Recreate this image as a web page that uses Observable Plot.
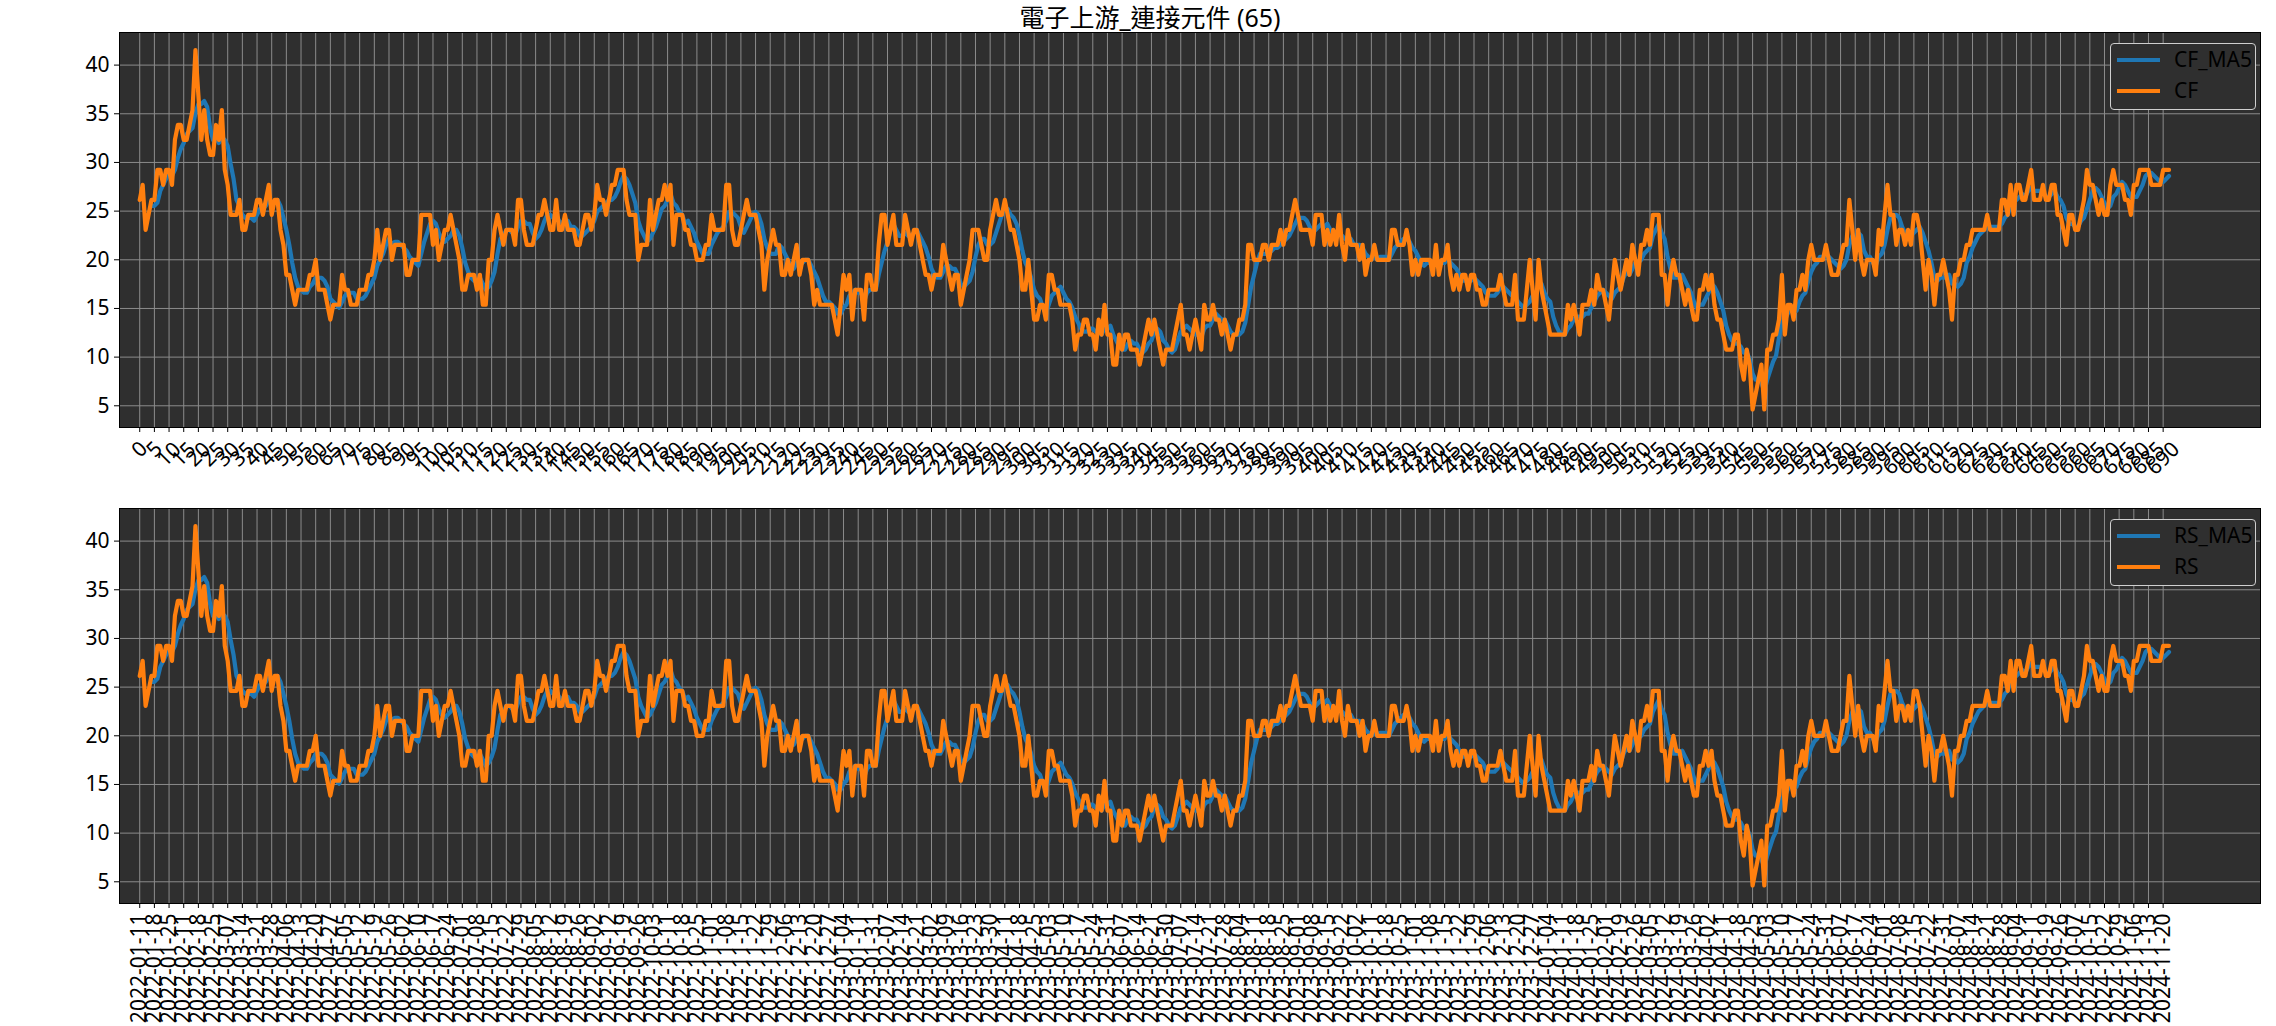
<!DOCTYPE html>
<html><head><meta charset="utf-8">
<script src="https://cdn.jsdelivr.net/npm/d3@7"></script>
<script src="https://cdn.jsdelivr.net/npm/@observablehq/plot@0.6"></script>
<style>
body{margin:0;background:#fff;font-family:"Noto Sans","Noto Sans CJK TC",sans-serif;}
#wrap{position:relative;width:2276px;height:1026px;overflow:hidden;background:#fff;}
.panel{position:absolute;left:0;}
#title{position:absolute;top:2px;left:900px;width:500px;height:30px;line-height:30px;text-align:center;font-size:25px;color:#000;white-space:nowrap;font-family:"Noto Sans","Noto Sans CJK TC",sans-serif;}
.legend{position:absolute;left:2110px;width:146px;height:67px;background:#2f2f2f;border:1px solid #cfcfcf;border-radius:4px;box-sizing:border-box;}
.sw{position:absolute;left:6px;width:43px;height:4px;}
.lab{position:absolute;left:63px;font-size:21px;line-height:24px;color:#000;white-space:nowrap;}
</style></head>
<body>
<div id="wrap">
  <div id="p1" class="panel" style="top:0px"></div>
  <div id="p2" class="panel" style="top:476px"></div>
  <div id="title">電子上游_連接元件 (65)</div>
  <div class="legend" style="top:43px">
    <div class="sw" style="top:14px;background:#1f77b4"></div><div class="lab" style="top:3px">CF_MA5</div>
    <div class="sw" style="top:45px;background:#ff7f0e"></div><div class="lab" style="top:34px">CF</div>
  </div>
  <div class="legend" style="top:519px">
    <div class="sw" style="top:14px;background:#1f77b4"></div><div class="lab" style="top:3px">RS_MA5</div>
    <div class="sw" style="top:45px;background:#ff7f0e"></div><div class="lab" style="top:34px">RS</div>
  </div>
</div>
<script>
// CF series (percent of the 65 stocks), by index
const cfA = [26.15,27.69,23.08,24.62,26.15,26.15,29.23,29.23,27.69,29.23,
29.23,27.69,32.31,33.85,33.85,32.31,32.31,33.85,35.38,41.54,
36.92,32.31,35.38,32.31,30.77,30.77,33.85,32.31,35.38,29.23,
27.69,24.62,24.62,24.62,26.15,23.08,23.08,24.62,24.62,24.62,
26.15,26.15,24.62,26.15,27.69,24.62,26.15,26.15,23.08,21.54,
18.46,18.46,16.92,15.38,16.92,16.92,16.92,16.92,18.46,18.46,
20,16.92,16.92,16.92,15.38,13.85,15.38,15.38,15.38,18.46,
16.92,16.92,15.38,15.38,15.38,16.92,16.92,16.92,18.46,18.46,
20,23.08,20,21.54,23.08,23.08,20,21.54,21.54,21.54,
21.54,18.46,18.46,20,20,20,24.62,24.62,24.62,24.62,
21.54,23.08,20,21.54,23.08,23.08,24.62,23.08,21.54,20,
16.92,16.92,18.46,18.46,18.46,16.92,18.46,15.38,15.38,20,
20,23.08,24.62,23.08,21.54,23.08,23.08,23.08,21.54,26.15,
26.15,23.08,21.54,21.54,21.54,23.08,24.62,24.62,26.15,24.62,
23.08,23.08,26.15,23.08,23.08,24.62,23.08,23.08,23.08,21.54,
21.54,23.08,24.62,24.62,23.08,24.62,27.69,26.15,26.15,24.62,
26.15,27.69,27.69,29.23,29.23,29.23,26.15,24.62,24.62,24.62,
20,21.54,21.54,21.54,26.15,23.08,24.62,26.15,26.15,27.69,
26.15,27.69,21.54,24.62,24.62,24.62,23.08,23.08,21.54,21.54,
20,20,20,21.54,21.54,24.62,23.08,23.08,23.08,23.08,
27.69,27.69,23.08,21.54,21.54,23.08,24.62,26.15,24.62,24.62,
24.62,23.08,21.54,16.92,20,21.54,23.08,21.54,21.54,18.46,
18.46,20,18.46,20,21.54,18.46,20,20,20,18.46,
15.38,16.92,15.38,15.38,15.38,15.38,15.38,13.85,12.31,15.38];
const cfB = [18.46,16.92,18.46,13.85,16.92,16.92,16.92,13.85,18.46,18.46,
16.92,16.92,21.54,24.62,24.62,21.54,23.08,24.62,21.54,21.54,
21.54,24.62,23.08,21.54,23.08,23.08,21.54,20,18.46,18.46,
16.92,18.46,18.46,18.46,21.54,20,18.46,16.92,18.46,18.46,
15.38,16.92,18.46,20,23.08,23.08,23.08,21.54,20,20,
23.08,24.62,26.15,24.62,24.62,26.15,24.62,23.08,23.08,21.54,
20,16.92,16.92,20,16.92,13.85,13.85,15.38,15.38,13.85,
18.46,18.46,16.92,16.92,15.38,15.38,15.38,15.38,13.85,10.77,
12.31,12.31,13.85,13.85,12.31,12.31,10.77,13.85,12.31,15.38,
12.31,12.31,9.23,9.23,12.31,10.77,12.31,12.31,10.77,10.77,
10.77,9.23,10.77,12.31,13.85,12.31,13.85,12.31,10.77,9.23,
10.77,10.77,10.77,12.31,13.85,15.38,12.31,12.31,10.77,12.31,
13.85,12.31,10.77,15.38,13.85,13.85,15.38,13.85,13.85,12.31,
13.85,12.31,10.77,12.31,12.31,13.85,13.85,15.38,21.54,21.54,
20,20,20,21.54,21.54,20,21.54,21.54,21.54,23.08,
21.54,23.08,23.08,24.62,26.15,24.62,23.08,23.08,23.08,23.08,
21.54,24.62,24.62,24.62,21.54,23.08,21.54,23.08,21.54,24.62,
21.54,20,23.08,21.54,21.54,21.54,20,21.54,18.46,20,
20,21.54,20,20,20,20,20,23.08,23.08,21.54,
21.54,21.54,23.08,21.54,18.46,20,18.46,20,20,20,
20,18.46,21.54,18.46,20,20,21.54,18.46,16.92,18.46,
16.92,18.46,18.46,16.92,18.46,18.46,16.92,16.92,15.38,15.38,
16.92,16.92,16.92,16.92,18.46,16.92,15.38,15.38,15.38,18.46,
13.85,13.85,13.85,16.92,20,16.92,13.85,20,16.92,15.38];
const cfC = [13.85,12.31,12.31,12.31,12.31,12.31,12.31,15.38,13.85,15.38,
13.85,12.31,15.38,15.38,15.38,16.92,15.38,18.46,16.92,16.92,
15.38,13.85,16.92,20,18.46,16.92,18.46,20,18.46,21.54,
20,18.46,21.54,21.54,23.08,21.54,24.62,24.62,24.62,18.46,
18.46,15.38,18.46,20,18.46,18.46,16.92,15.38,16.92,15.38,
13.85,13.85,16.92,16.92,18.46,16.92,18.46,15.38,13.85,13.85,
12.31,10.77,10.77,10.77,12.31,12.31,9.23,7.69,10.77,9.23,
4.62,6.15,7.69,9.23,4.62,10.77,10.77,12.31,12.31,13.85,
18.46,12.31,15.38,15.38,13.85,16.92,16.92,18.46,16.92,20,
21.54,20,20,20,20,21.54,20,18.46,18.46,18.46,
20,21.54,21.54,26.15,23.08,20,23.08,20,18.46,20,
20,20,18.46,23.08,21.54,24.62,27.69,24.62,24.62,21.54,
23.08,23.08,21.54,23.08,21.54,24.62,24.62,23.08,20,16.92,
20,18.46,15.38,18.46,18.46,20,18.46,16.92,13.85,18.46,
18.46,20,20,21.54,21.54,23.08,23.08,23.08,23.08,23.08,
24.62,23.08,23.08,23.08,23.08,26.15,26.15,24.62,27.69,24.62,
27.69,27.69,26.15,26.15,27.69,29.23,26.15,26.15,26.15,27.69,
26.15,26.15,27.69,27.69,24.62,24.62,23.08,21.54,24.62,24.62,
23.08,23.08,24.62,26.15,29.23,27.69,27.69,26.15,24.62,26.15,
24.62,24.62,27.69,29.23,27.69,27.69,27.69,26.15,26.15,24.62,
27.69,27.69,29.23,29.23,29.23,29.23,27.69,27.69,27.69,27.69,
29.23,29.23,29.23];
const cf = cfA.concat(cfB, cfC);
const rs = cf; // the RS panel shows the same values

const xTicks = d3.range(0, 691, 5);
const yTicks = [5, 10, 15, 20, 25, 30, 35, 40];
const dateLabels = [
"2022-01-11","2022-01-18","2022-01-25","2022-02-11","2022-02-18","2022-02-25","2022-03-07","2022-03-14","2022-03-21","2022-03-28",
"2022-04-06","2022-04-13","2022-04-20","2022-04-27","2022-05-05","2022-05-12","2022-05-19","2022-05-26","2022-06-02","2022-06-10",
"2022-06-17","2022-06-24","2022-07-01","2022-07-08","2022-07-15","2022-07-22","2022-07-29","2022-08-05","2022-08-12","2022-08-19",
"2022-08-26","2022-09-02","2022-09-12","2022-09-19","2022-09-26","2022-10-03","2022-10-11","2022-10-18","2022-10-25","2022-11-01",
"2022-11-08","2022-11-15","2022-11-22","2022-11-29","2022-12-06","2022-12-13","2022-12-20","2022-12-27","2023-01-04","2023-01-11",
"2023-01-31","2023-02-07","2023-02-14","2023-02-21","2023-03-02","2023-03-09","2023-03-16","2023-03-23","2023-03-30","2023-04-11",
"2023-04-18","2023-04-25","2023-05-03","2023-05-10","2023-05-17","2023-05-24","2023-05-31","2023-06-07","2023-06-14","2023-06-21",
"2023-06-30","2023-07-07","2023-07-14","2023-07-21","2023-07-28","2023-08-04","2023-08-11","2023-08-18","2023-08-25","2023-09-01",
"2023-09-08","2023-09-15","2023-09-22","2023-10-02","2023-10-11","2023-10-18","2023-10-25","2023-11-01","2023-11-08","2023-11-15",
"2023-11-22","2023-11-29","2023-12-06","2023-12-13","2023-12-20","2023-12-27","2024-01-04","2024-01-11","2024-01-18","2024-01-25",
"2024-02-01","2024-02-19","2024-02-26","2024-03-05","2024-03-12","2024-03-19","2024-03-26","2024-04-02","2024-04-11","2024-04-18",
"2024-04-25","2024-05-03","2024-05-10","2024-05-17","2024-05-24","2024-05-31","2024-06-07","2024-06-17","2024-06-24","2024-07-01",
"2024-07-08","2024-07-15","2024-07-22","2024-07-31","2024-08-07","2024-08-14","2024-08-21","2024-08-28","2024-09-04","2024-09-11",
"2024-09-19","2024-09-26","2024-10-07","2024-10-15","2024-10-22","2024-10-29","2024-11-06","2024-11-13","2024-11-20"];

const BG = "#2f2f2f", GRID = "#8c8c8c", BLUE = "#1f77b4", ORANGE = "#ff7f0e";
const FONT = '"Noto Sans","Noto Sans CJK TC",sans-serif';

function panel(values, height, marginBottom, labelMarks) {
  const rows = values.map((v, i) => ({i, v}));
  return Plot.plot({
    width: 2276, height,
    marginLeft: 119, marginRight: 16, marginTop: 32, marginBottom,
    style: {background: "transparent", fontFamily: FONT, fontSize: "21px", color: "#000", overflow: "visible"},
    x: {domain: [-6.9, 723.2], label: null},
    y: {domain: [2.77, 43.35], label: null},
    marks: [
      Plot.frame({fill: BG}),
      Plot.gridX(xTicks, {stroke: GRID, strokeOpacity: 1, strokeWidth: 1}),
      Plot.gridY(yTicks, {stroke: GRID, strokeOpacity: 1, strokeWidth: 1}),
      Plot.lineY(rows, Plot.windowY({k: 5, anchor: "end", reduce: "mean", strict: true},
        {x: "i", y: "v", stroke: BLUE, strokeWidth: 4.2})),
      Plot.lineY(rows, {x: "i", y: "v", stroke: ORANGE, strokeWidth: 4.2}),
      Plot.frame({stroke: "#000", strokeWidth: 1}),
      Plot.axisY(yTicks, {tickSize: 5, tickPadding: 5, label: null, fontSize: 21}),
      Plot.axisX(xTicks, {tickSize: 5, tickFormat: () => "", label: null}),
      ...labelMarks
    ]
  });
}

const topLabels = [1, 2, 3].map(n => Plot.text(xTicks.filter(t => String(t).length === n), {
  x: d => d, text: d => String(d), frameAnchor: "bottom",
  rotate: -45, textAnchor: "middle", lineAnchor: "middle",
  dy: [0, 22, 27, 31][n], fontSize: 21, fill: "#000"
}));
const bottomLabels = [Plot.text(xTicks, {
  x: d => d, text: (d, i) => dateLabels[i], frameAnchor: "bottom",
  rotate: -90, textAnchor: "end", lineAnchor: "middle",
  dy: 10, fontSize: 21, fill: "#000"
})];

document.getElementById("p1").append(panel(cf, 476, 49, topLabels));
document.getElementById("p2").append(panel(rs, 550, 123, bottomLabels));
</script>
</body></html>
